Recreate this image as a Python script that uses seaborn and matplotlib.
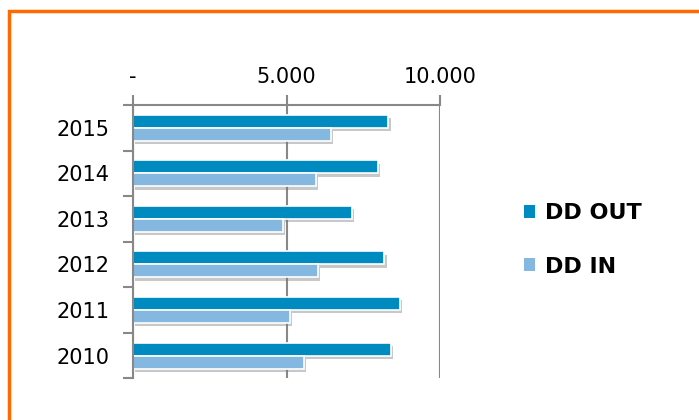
import pandas as pd
import matplotlib.pyplot as plt
import matplotlib.patheffects as pe
from matplotlib.patches import Rectangle, Patch
from matplotlib.ticker import FixedLocator, FuncFormatter
import seaborn as sns

# Chart values
years = ['2015', '2014', '2013', '2012', '2011', '2010']
dd_out = [8320, 7970, 7130, 8190, 8700, 8410]
dd_in = [6440, 5960, 4880, 6020, 5110, 5570]
series = ['DD OUT', 'DD IN']
colors = ['#008BC0', '#85B8E0']

df = pd.DataFrame({
    'Year': years * 2,
    'Value': dd_out + dd_in,
    'Series': [series[0]] * len(years) + [series[1]] * len(years),
})

sns.set_style('white')
plt.rcParams['font.family'] = ['DejaVu Sans']
plt.rcParams['text.color'] = 'black'
plt.rcParams['xtick.color'] = 'black'
plt.rcParams['ytick.color'] = 'black'

fig = plt.figure(figsize=(6.99, 4.20), dpi=100)
ax = fig.add_axes([133 / 699, 1 - 378.3 / 420, 307 / 699, 273.3 / 420])

sns.barplot(data=df, y='Year', x='Value', hue='Series', order=years,
            hue_order=series, palette=colors, saturation=1, width=0.57, orient='h',
            edgecolor='white', linewidth=1.2, legend=False, ax=ax)

# soft drop shadow under each bar
shadow = [pe.SimplePatchShadow(offset=(1.5, -2.5), shadow_rgbFace='#777777', alpha=0.4), pe.Normal()]
for p in ax.patches:
    p.set_path_effects(shadow)

# x axis on top
ax.set_xlim(0, 10000)
ax.xaxis.tick_top()
ax.xaxis.set_label_position('top')
ax.xaxis.set_major_locator(FixedLocator([0, 5000, 10000]))
ax.xaxis.set_major_formatter(FuncFormatter(lambda v, _: '-' if v == 0 else f'{int(v):,}'.replace(',', '.')))
ax.tick_params(axis='x', direction='out', length=7, width=1.5, color='#888888',
               labelsize=15, labelcolor='black', pad=6, top=True, bottom=False)
ax.grid(axis='x', color='#888888', linewidth=1.5)
ax.set_axisbelow(True)

# category boundary ticks on the left
ax.set_ylim(5.5, -0.5)
ax.yaxis.set_minor_locator(FixedLocator([i - 0.5 for i in range(len(years) + 1)]))
ax.tick_params(axis='y', which='major', length=0, labelsize=15, labelcolor='black', pad=17)
ax.tick_params(axis='y', which='minor', direction='out', length=7, width=1.5,
               color='#888888', left=True)

for side in ['right', 'bottom']:
    ax.spines[side].set_visible(False)
for side in ['top', 'left']:
    ax.spines[side].set_color('#888888')
    ax.spines[side].set_linewidth(1.5)

ax.set_xlabel('')
ax.set_ylabel('')

handles = [Patch(facecolor=c, edgecolor='none') for c in colors]
ax.legend(handles, series, loc='center left', bbox_to_anchor=(504 / 699, 1 - 240 / 420),
          bbox_transform=fig.transFigure, frameon=False, handlelength=0.5,
          handleheight=0.5, handletextpad=0.45, labelspacing=1.5,
          prop={'weight': 'bold', 'size': 16})

# orange frame, running off the right and bottom edges
fig.patches.append(Rectangle((9 / 699, -0.1), 1.2, 1 - 11 / 420 + 0.1, transform=fig.transFigure,
                             fill=False, edgecolor='#FF6A00', linewidth=2.5, clip_on=False))

plt.savefig('out.png', dpi=100)
